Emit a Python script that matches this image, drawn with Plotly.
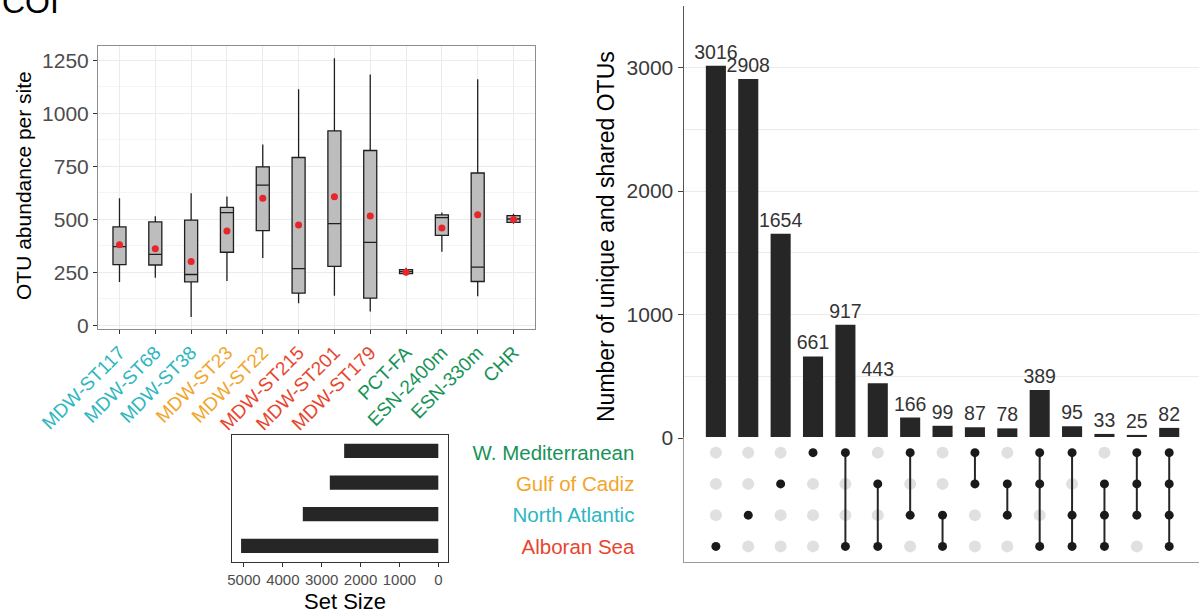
import plotly.graph_objects as go

# ---------------- data ----------------
sites = ["MDW-ST117", "MDW-ST68", "MDW-ST38", "MDW-ST23", "MDW-ST22", "MDW-ST215",
         "MDW-ST201", "MDW-ST179", "PCT-FA", "ESN-2400m", "ESN-330m", "CHR"]
site_region = ["North Atlantic", "North Atlantic", "North Atlantic", "Gulf of Cadiz", "Gulf of Cadiz",
               "Alboran Sea", "Alboran Sea", "Alboran Sea", "W. Mediterranean", "W. Mediterranean",
               "W. Mediterranean", "W. Mediterranean"]
box_low = [205, 225, 40, 210, 318, 105, 140, 66, 236, 347, 137, 480]
box_q1 = [287, 285, 205, 345, 447, 152, 278, 129, 244, 425, 207, 486]
box_med = [372, 335, 240, 532, 662, 268, 480, 392, 254, 508, 275, 502]
box_q3 = [465, 488, 497, 557, 748, 792, 918, 825, 263, 521, 719, 518]
box_high = [600, 515, 623, 608, 853, 1114, 1260, 1183, 272, 533, 1161, 527]
box_mean = [380, 362, 302, 445, 600, 474, 607, 516, 251, 460, 522, 500]

sets = ["W. Mediterranean", "Gulf of Cadiz", "North Atlantic", "Alboran Sea"]
set_sizes = [2422, 2791, 3486, 5074]
set_colors = {"W. Mediterranean": "#179358", "Gulf of Cadiz": "#F2A52A",
              "North Atlantic": "#2EB6C1", "Alboran Sea": "#E8452F"}

combo_counts = [3016, 2908, 1654, 661, 917, 443, 166, 99, 87, 78, 389, 95, 33, 25, 82]
combo_sets = [
    ["Alboran Sea"],
    ["North Atlantic"],
    ["Gulf of Cadiz"],
    ["W. Mediterranean"],
    ["W. Mediterranean", "Alboran Sea"],
    ["Gulf of Cadiz", "Alboran Sea"],
    ["W. Mediterranean", "North Atlantic"],
    ["North Atlantic", "Alboran Sea"],
    ["W. Mediterranean", "Gulf of Cadiz"],
    ["Gulf of Cadiz", "North Atlantic"],
    ["W. Mediterranean", "Gulf of Cadiz", "Alboran Sea"],
    ["W. Mediterranean", "North Atlantic", "Alboran Sea"],
    ["Gulf of Cadiz", "North Atlantic", "Alboran Sea"],
    ["W. Mediterranean", "Gulf of Cadiz", "North Atlantic"],
    ["W. Mediterranean", "Gulf of Cadiz", "North Atlantic", "Alboran Sea"],
]

box_yticks = [0, 250, 500, 750, 1000, 1250]
bar_yticks = [0, 1000, 2000, 3000]
setsize_ticks = [5000, 4000, 3000, 2000, 1000, 0]

# ---------------- figure ----------------
W, H = 1199, 613
FONT = "Liberation Sans, Arial, sans-serif"


def px_x(v):
    return v / W


def px_y(v):
    return 1 - v / H


fig = go.Figure()

# Box plot panel
fig.add_trace(go.Box(
    x=sites, q1=box_q1, median=box_med, q3=box_q3,
    lowerfence=box_low, upperfence=box_high,
    fillcolor="#BDBDBD", line=dict(color="#1f1f1f", width=1.3),
    whiskerwidth=0, boxpoints=False, showlegend=False,
    xaxis="x", yaxis="y", hoverinfo="skip"))
fig.add_trace(go.Scatter(
    x=sites, y=box_mean, mode="markers",
    marker=dict(color="#E5262A", size=7), showlegend=False,
    xaxis="x", yaxis="y", hoverinfo="skip"))

# Intersection bars
ncomb = len(combo_counts)
cx = list(range(ncomb))
fig.add_trace(go.Bar(
    x=cx, y=combo_counts, marker=dict(color="#262626", line=dict(width=0)),
    text=[str(v) for v in combo_counts], textposition="outside",
    constraintext="none",
    textfont=dict(size=19.5, color="#333333", family=FONT),
    cliponaxis=False, showlegend=False, xaxis="x2", yaxis="y2", hoverinfo="skip"))

# Matrix
gx, gy, bx, by, lx, ly = [], [], [], [], [], []
for i, members in enumerate(combo_sets):
    rows = []
    for j, s in enumerate(sets):
        if s in members:
            bx.append(i)
            by.append(j)
            rows.append(j)
        else:
            gx.append(i)
            gy.append(j)
    if len(rows) > 1:
        lx += [i, i, None]
        ly += [min(rows), max(rows), None]

fig.add_trace(go.Scatter(x=gx, y=gy, mode="markers",
                         marker=dict(color="#E0E0E0", size=12),
                         showlegend=False, xaxis="x3", yaxis="y3", hoverinfo="skip"))
fig.add_trace(go.Scatter(x=lx, y=ly, mode="lines",
                         line=dict(color="#262626", width=2),
                         showlegend=False, xaxis="x3", yaxis="y3", hoverinfo="skip"))
fig.add_trace(go.Scatter(x=bx, y=by, mode="markers",
                         marker=dict(color="#1a1a1a", size=9),
                         showlegend=False, xaxis="x3", yaxis="y3", hoverinfo="skip"))

# Set size bars
fig.add_trace(go.Bar(
    x=set_sizes, y=list(range(len(sets))), orientation="h", width=0.45,
    marker=dict(color="#262626", line=dict(width=0)),
    showlegend=False, xaxis="x4", yaxis="y4", hoverinfo="skip"))

# Row shading for matrix
shapes = []
for j in range(len(sets)):
    if j % 2 == 1:
        shapes.append(dict(type="rect", xref="x3 domain", yref="y3",
                           x0=0, x1=1, y0=j - 0.5, y1=j + 0.5,
                           fillcolor="#F0F0F0", line=dict(width=0), layer="below"))

tick_font = dict(size=21, color="#4D4D4D", family=FONT)

box_ticktext = [f"<span style='color:{set_colors[r]}'>{s}</span>" for s, r in zip(sites, site_region)]
set_ticktext = [f"<span style='color:{set_colors[s]}'>{s}</span>" for s in sets]

x_up = [px_x(683.5), 1.0]

fig.update_layout(
    width=W, height=H,
    margin=dict(l=0, r=0, t=0, b=0, autoexpand=False),
    paper_bgcolor="white", plot_bgcolor="white",
    font=dict(family=FONT, color="#000000"),
    boxgap=0.48, bargap=0.38,
    shapes=shapes,
    xaxis=dict(domain=[px_x(98), px_x(535)], type="category",
               tickmode="array", tickvals=sites, ticktext=box_ticktext,
               tickangle=-45, tickfont=dict(size=19, family=FONT),
               ticks="outside", ticklen=4, tickcolor="#333333",
               showline=True, mirror=True, linecolor="#8C8C8C", linewidth=1,
               showgrid=True, gridcolor="#EBEBEB", gridwidth=1,
               range=[-0.6, 11.6], anchor="y", zeroline=False, automargin=False),
    yaxis=dict(domain=[px_y(329), px_y(46)], range=[-17, 1318],
               tickmode="array", tickvals=box_yticks, tickfont=tick_font,
               ticks="outside", ticklen=4, tickcolor="#333333",
               showline=True, mirror=True, linecolor="#8C8C8C", linewidth=1,
               showgrid=True, gridcolor="#EBEBEB", gridwidth=1,
               minor=dict(dtick=125, tick0=0, showgrid=True, gridcolor="#F4F4F4"),
               zeroline=False, anchor="x", automargin=False),
    xaxis2=dict(domain=x_up, range=[-1.0, 14.92], showticklabels=False,
                ticks="", showgrid=False, zeroline=False,
                showline=True, linecolor="#C8C8C8", linewidth=1, anchor="y2", automargin=False),
    yaxis2=dict(domain=[px_y(438), px_y(6)], range=[0, 3500],
                tickmode="array", tickvals=bar_yticks,
                tickfont=dict(size=21, color="#3A3A3A", family=FONT),
                ticks="outside", ticklen=5, tickcolor="#444444",
                showline=True, linecolor="#555555", linewidth=1,
                showgrid=True, gridcolor="#EBEBEB", gridwidth=1,
                minor=dict(dtick=500, tick0=0, showgrid=True, gridcolor="#EBEBEB"),
                zeroline=False, anchor="x2", automargin=False),
    xaxis3=dict(domain=x_up, range=[-1.0, 14.92], showticklabels=False,
                ticks="", showgrid=False, zeroline=False,
                showline=True, linecolor="#9A9A9A", linewidth=1, anchor="y3", automargin=False),
    yaxis3=dict(domain=[px_y(562), px_y(437)], range=[3.5, -0.5],
                tickmode="array", tickvals=list(range(len(sets))), ticktext=set_ticktext,
                tickfont=dict(size=20.5, family=FONT), ticks="", ticklabelstandoff=44,
                showgrid=False, zeroline=False,
                showline=True, linecolor="#9A9A9A", linewidth=1, anchor="x3", automargin=False),
    xaxis4=dict(domain=[px_x(231.7), px_x(448.3)], range=[5315, -257],
                tickmode="array", tickvals=setsize_ticks,
                tickfont=dict(size=15, color="#4D4D4D", family=FONT),
                ticks="outside", ticklen=4, tickcolor="#333333",
                showline=True, mirror=True, linecolor="#333333", linewidth=1,
                showgrid=False, zeroline=False, anchor="y4", automargin=False),
    yaxis4=dict(domain=[px_y(561.7), px_y(435)], range=[3.5, -0.5],
                showticklabels=False, ticks="",
                showline=True, mirror=True, linecolor="#333333", linewidth=1,
                showgrid=False, zeroline=False, anchor="x4", automargin=False),
    annotations=[
        dict(text="COI", x=0.0, y=px_y(22), xref="paper", yref="paper",
             xanchor="left", yanchor="bottom", showarrow=False,
             font=dict(size=32, color="#000000", family=FONT)),
        dict(text="OTU abundance per site", x=px_x(23), y=px_y(186), xref="paper", yref="paper",
             xanchor="center", yanchor="middle", textangle=-90, showarrow=False,
             font=dict(size=21, color="#000000", family=FONT)),
        dict(text="Number of unique and shared OTUs", x=px_x(606), y=px_y(236),
             xref="paper", yref="paper", xanchor="center", yanchor="middle",
             textangle=-90, showarrow=False,
             font=dict(size=23, color="#000000", family=FONT)),
        dict(text="Set Size", x=px_x(345), y=px_y(601), xref="paper", yref="paper",
             xanchor="center", yanchor="middle", showarrow=False,
             font=dict(size=22, color="#000000", family=FONT)),
    ],
)

fig.write_html("out.html",
               config={"displayModeBar": False},
               post_script="document.body.style.margin='0';document.body.style.overflow='hidden';")
